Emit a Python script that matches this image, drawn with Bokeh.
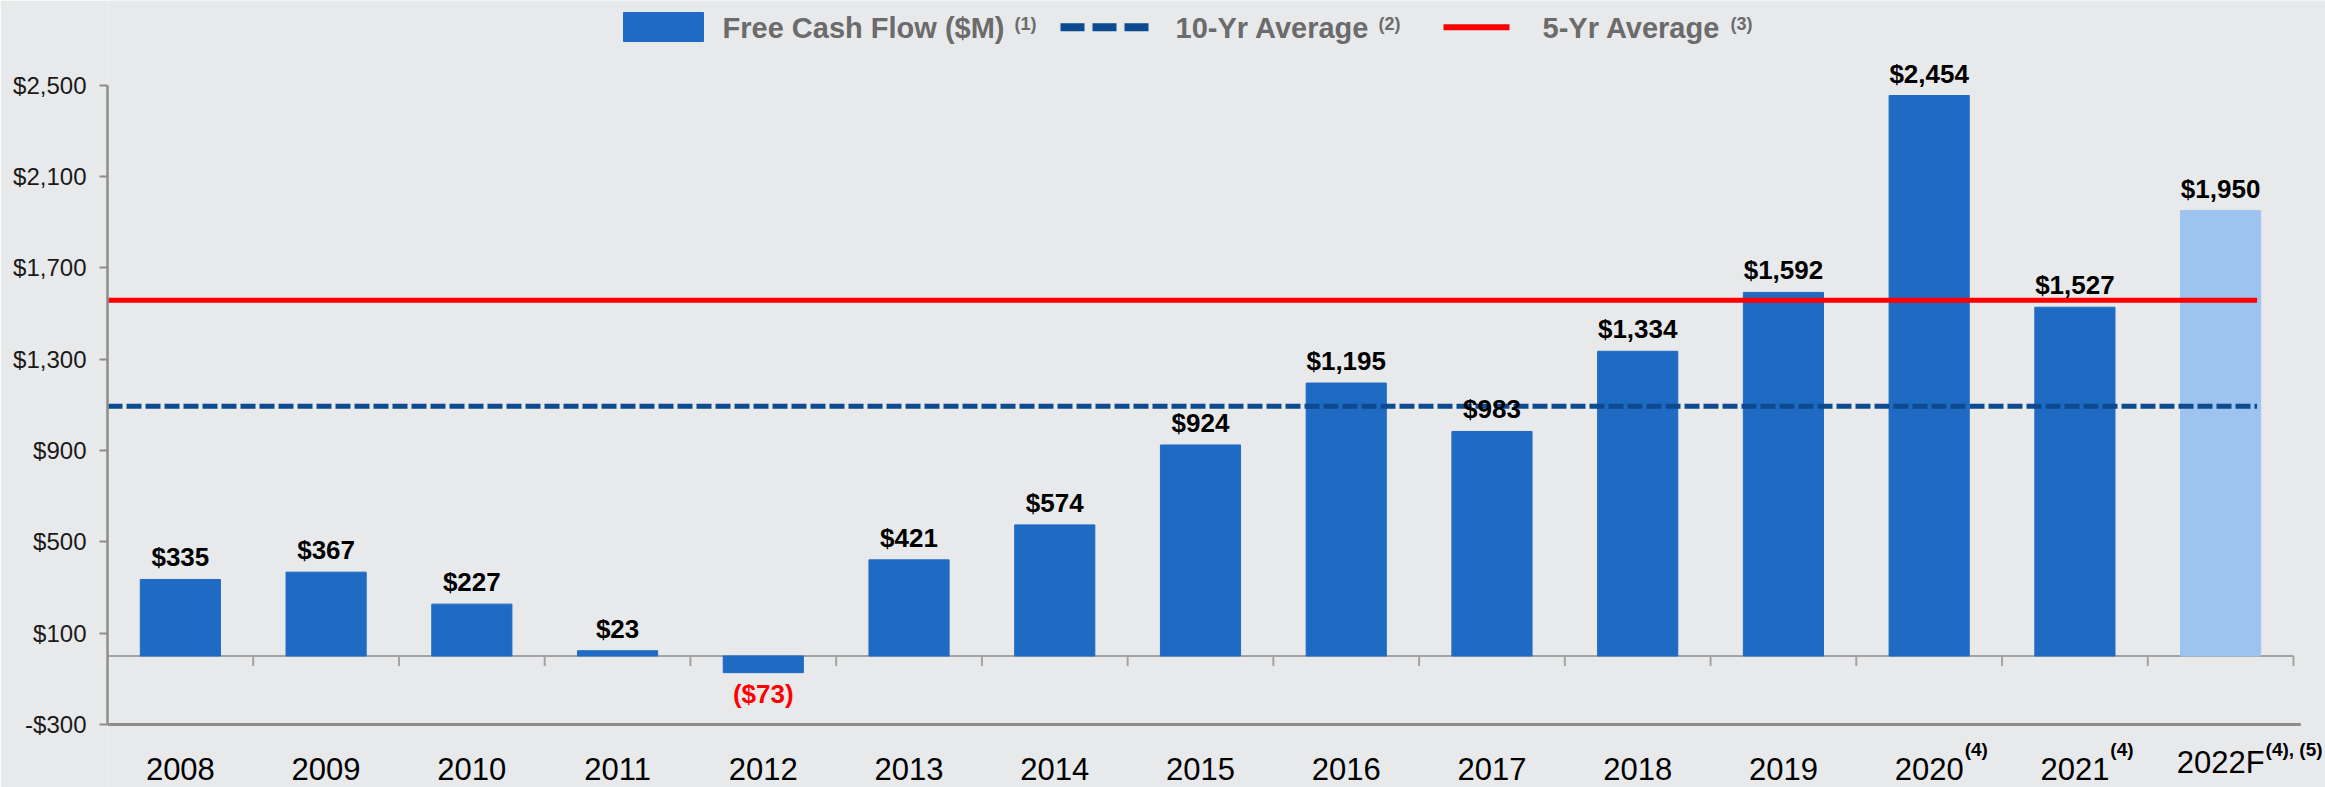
from bokeh.plotting import figure
from bokeh.models import Range1d, FixedTicker
from bokeh.core.properties import value
from bokeh.embed import file_html
from bokeh.resources import INLINE

# ---------------- data ----------------
years = ["2008", "2009", "2010", "2011", "2012", "2013", "2014", "2015",
         "2016", "2017", "2018", "2019", "2020", "2021", "2022F"]
year_notes = ["", "", "", "", "", "", "", "", "", "", "", "", "(4)", "(4)", "(4), (5)"]
fcf = [335, 367, 227, 23, -73, 421, 574, 924, 1195, 983, 1334, 1592, 2454, 1527, 1950]
is_forecast = [False] * 14 + [True]
avg_10yr = 1093
avg_5yr = 1558
y_ticks = [-300, 100, 500, 900, 1300, 1700, 2100, 2500]
legend_labels = ["Free Cash Flow ($M)", "10-Yr Average", "5-Yr Average"]
legend_notes = ["(1)", "(2)", "(3)"]

# ---------------- layout (page pixels; bokeh template has no body margin) ----------------
W, H = 2325, 787
LEFT = 107                     # px of the y axis
n = len(years)
KX = (2293.0 - LEFT) / n       # px per category
KY = (724.0 - 84.5) / (y_ticks[-1] - y_ticks[0])   # px per $M
Y_END = y_ticks[-1] + 84.5 / KY
Y_START = y_ticks[0] - (H - 724.0) / KY
X_END = (W - LEFT) / KX

def dx(px):
    return (px - LEFT) / KX

def dy(py):
    return Y_END - py / KY

FONT = "Liberation Sans"
BG = "#E8E9EB"
BAR = "#1F6BC4"
BAR_F = "#9DC3EE"
AXIS = "#8C8C8C"
NAVY = "#0D4A8F"

p = figure(width=W, height=H, output_backend="svg", toolbar_location=None,
           x_range=Range1d(0, X_END), y_range=Range1d(Y_START, Y_END),
           min_border_left=LEFT, min_border_right=0, min_border_top=0,
           min_border_bottom=0)
p.background_fill_color = BG
p.border_fill_color = BG
p.outline_line_color = None
p.grid.visible = False
p.xaxis.visible = False

ya = p.yaxis[0]
ya.ticker = FixedTicker(ticks=y_ticks)
ya.major_label_overrides = {v: (f"-${abs(v):,}" if v < 0 else f"${v:,}") for v in y_ticks}
ya.bounds = (y_ticks[0], y_ticks[-1])
ya.axis_line_color = AXIS
ya.axis_line_width = 2.5
ya.major_tick_line_color = AXIS
ya.major_tick_line_width = 2
ya.major_tick_out = 8
ya.major_tick_in = 0
ya.minor_tick_line_color = None
ya.major_label_standoff = 13
ya.major_label_text_font = FONT
ya.major_label_text_font_size = "24px"
ya.major_label_text_color = "#1A1A1A"

xs = [i + 0.5 for i in range(n)]

# bottom base line and zero line with category ticks
p.segment(x0=[0], y0=[y_ticks[0]], x1=[n + 0.05], y1=[y_ticks[0]],
          line_color=AXIS, line_width=3)
p.segment(x0=[0], y0=[0], x1=[n], y1=[0], line_color="#A3A3A3", line_width=2)
tick_len = 10 / KY
p.segment(x0=list(range(1, n + 1)), y0=[0] * n, x1=list(range(1, n + 1)),
          y1=[-tick_len] * n, line_color="#A3A3A3", line_width=2)

# bars
colors = [BAR_F if f else BAR for f in is_forecast]
p.vbar(x=xs, top=fcf, bottom=0, width=0.55, fill_color=colors, line_color=colors)

# average lines
p.line(x=[0, n - 0.25], y=[avg_10yr, avg_10yr], line_color=NAVY,
       line_width=5, line_dash="15 4")
p.line(x=[0, n - 0.25], y=[avg_5yr, avg_5yr], line_color="#FF0000", line_width=5)

# value labels
def fmt(v):
    return f"(${abs(v):,})" if v < 0 else f"${v:,}"

pos = [i for i, v in enumerate(fcf) if v >= 0]
neg = [i for i, v in enumerate(fcf) if v < 0]
p.text(x=[xs[i] for i in pos], y=[fcf[i] for i in pos], text=[fmt(fcf[i]) for i in pos],
       text_align="center", text_baseline="bottom", y_offset=-7,
       text_font=value(FONT), text_font_style="bold", text_font_size="26px",
       text_color="#000000")
p.text(x=[xs[i] for i in neg], y=[fcf[i] for i in neg], text=[fmt(fcf[i]) for i in neg],
       text_align="center", text_baseline="top", y_offset=6,
       text_font=value(FONT), text_font_style="bold", text_font_size="26px",
       text_color="#FF0000")

# year labels (category axis labels) with superscript notes
YEAR_FS = 31
char_w = {"F": 0.611}
def half_width(s):
    return sum(char_w.get(c, 0.556) for c in s) * YEAR_FS / 2

year_bottom = dy(779)
p.text(x=xs, y=[year_bottom] * n, text=years, text_align="center",
       text_baseline="bottom", text_font=value(FONT),
       text_font_size=f"{YEAR_FS}px", text_color="#000000")
note_idx = [i for i in range(n) if year_notes[i]]
p.text(x=[xs[i] for i in note_idx], y=[year_bottom] * len(note_idx),
       text=[year_notes[i] for i in note_idx],
       x_offset=[half_width(years[i]) + 1 for i in note_idx], y_offset=-20,
       text_align="left", text_baseline="bottom", text_font=value(FONT),
       text_font_style="bold", text_font_size="19px", text_color="#000000")

# legend (drawn manually above plot area)
LEG_C = "#6B6B6B"
leg_y = dy(26.7)
p.rect(x=[dx(663)], y=[dy(26.5)], width=80, height=29, width_units="screen",
       height_units="screen", fill_color=BAR, line_color=BAR)
p.segment(x0=[dx(1060)], y0=[leg_y], x1=[dx(1148)], y1=[leg_y],
          line_color=NAVY, line_width=8, line_dash="24 8")
p.segment(x0=[dx(1443)], y0=[leg_y], x1=[dx(1509)], y1=[leg_y],
          line_color="#FF0000", line_width=6)
p.text(x=[dx(722), dx(1175), dx(1542)], y=[dy(43.5)] * 3, text=legend_labels,
       text_align="left", text_baseline="bottom", text_font=value(FONT),
       text_font_style="bold", text_font_size="29px", text_color=LEG_C)
p.text(x=[dx(1014), dx(1378), dx(1730)], y=[dy(33)] * 3, text=legend_notes,
       text_align="left", text_baseline="bottom", text_font=value(FONT),
       text_font_style="bold", text_font_size="18px", text_color=LEG_C)

html = file_html(p, INLINE, title="Free Cash Flow")
html = html.replace("<body>", f'<body style="background-color:{BG};">', 1)
open("out.html", "w").write(html)
